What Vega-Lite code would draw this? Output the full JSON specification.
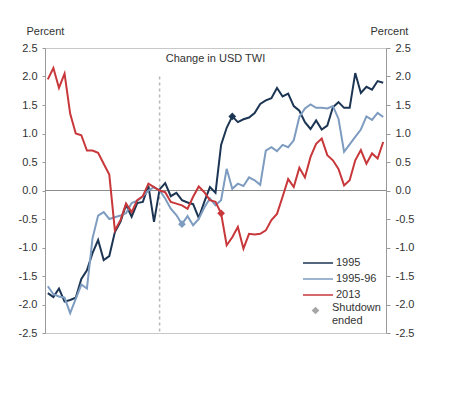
{
  "$schema": "https://vega.github.io/schema/vega-lite/v6.json",
  "width": 341,
  "height": 285,
  "autosize": {"type": "none"},
  "padding": {"left": 45, "top": 48, "right": 63, "bottom": 60},
  "background": "white",
  "config": {
    "font": "Liberation Sans",
    "view": {"stroke": "#c8c8c8", "strokeWidth": 1},
    "axis": {"labelFont": "Liberation Sans", "titleFont": "Liberation Sans", "labelColor": "#333333", "titleColor": "#333333", "labelFontSize": 11, "titleFontSize": 11, "titleFontWeight": "normal", "domainColor": "#9a9a9a", "tickColor": "#9a9a9a", "grid": false},
    "legend": {"labelFont": "Liberation Sans", "labelFontSize": 11, "labelColor": "#333333"}
  },
  "datasets": {
    "lines": [
      {"day": -20, "series": "1995", "value": -1.80}, {"day": -19, "series": "1995", "value": -1.87}, {"day": -18, "series": "1995", "value": -1.72}, {"day": -17, "series": "1995", "value": -1.95}, {"day": -16, "series": "1995", "value": -1.92}, {"day": -15, "series": "1995", "value": -1.88}, {"day": -14, "series": "1995", "value": -1.55}, {"day": -13, "series": "1995", "value": -1.40}, {"day": -12, "series": "1995", "value": -1.10}, {"day": -11, "series": "1995", "value": -0.87}, {"day": -10, "series": "1995", "value": -1.22}, {"day": -9, "series": "1995", "value": -1.15}, {"day": -8, "series": "1995", "value": -0.73}, {"day": -7, "series": "1995", "value": -0.55}, {"day": -6, "series": "1995", "value": -0.25}, {"day": -5, "series": "1995", "value": -0.46}, {"day": -4, "series": "1995", "value": -0.22}, {"day": -3, "series": "1995", "value": -0.20}, {"day": -2, "series": "1995", "value": 0.08}, {"day": -1, "series": "1995", "value": -0.55}, {"day": 0, "series": "1995", "value": 0.02}, {"day": 1, "series": "1995", "value": 0.13}, {"day": 2, "series": "1995", "value": -0.10}, {"day": 3, "series": "1995", "value": -0.04}, {"day": 4, "series": "1995", "value": -0.17}, {"day": 5, "series": "1995", "value": -0.21}, {"day": 6, "series": "1995", "value": -0.24}, {"day": 7, "series": "1995", "value": -0.48}, {"day": 8, "series": "1995", "value": -0.20}, {"day": 9, "series": "1995", "value": 0.06}, {"day": 10, "series": "1995", "value": -0.04}, {"day": 11, "series": "1995", "value": 0.80}, {"day": 12, "series": "1995", "value": 1.10}, {"day": 13, "series": "1995", "value": 1.30}, {"day": 14, "series": "1995", "value": 1.20}, {"day": 15, "series": "1995", "value": 1.25}, {"day": 16, "series": "1995", "value": 1.28}, {"day": 17, "series": "1995", "value": 1.36}, {"day": 18, "series": "1995", "value": 1.52}, {"day": 19, "series": "1995", "value": 1.58}, {"day": 20, "series": "1995", "value": 1.62}, {"day": 21, "series": "1995", "value": 1.80}, {"day": 22, "series": "1995", "value": 1.65}, {"day": 23, "series": "1995", "value": 1.70}, {"day": 24, "series": "1995", "value": 1.48}, {"day": 25, "series": "1995", "value": 1.40}, {"day": 26, "series": "1995", "value": 1.20}, {"day": 27, "series": "1995", "value": 1.08}, {"day": 28, "series": "1995", "value": 1.23}, {"day": 29, "series": "1995", "value": 1.07}, {"day": 30, "series": "1995", "value": 1.14}, {"day": 31, "series": "1995", "value": 1.46}, {"day": 32, "series": "1995", "value": 1.55}, {"day": 33, "series": "1995", "value": 1.45}, {"day": 34, "series": "1995", "value": 1.45}, {"day": 35, "series": "1995", "value": 2.06}, {"day": 36, "series": "1995", "value": 1.71}, {"day": 37, "series": "1995", "value": 1.82}, {"day": 38, "series": "1995", "value": 1.77}, {"day": 39, "series": "1995", "value": 1.92}, {"day": 40, "series": "1995", "value": 1.89},
      {"day": -20, "series": "1995-96", "value": -1.68}, {"day": -19, "series": "1995-96", "value": -1.82}, {"day": -18, "series": "1995-96", "value": -1.86}, {"day": -17, "series": "1995-96", "value": -1.88}, {"day": -16, "series": "1995-96", "value": -2.15}, {"day": -15, "series": "1995-96", "value": -1.90}, {"day": -14, "series": "1995-96", "value": -1.65}, {"day": -13, "series": "1995-96", "value": -1.72}, {"day": -12, "series": "1995-96", "value": -0.84}, {"day": -11, "series": "1995-96", "value": -0.44}, {"day": -10, "series": "1995-96", "value": -0.38}, {"day": -9, "series": "1995-96", "value": -0.50}, {"day": -8, "series": "1995-96", "value": -0.47}, {"day": -7, "series": "1995-96", "value": -0.44}, {"day": -6, "series": "1995-96", "value": -0.40}, {"day": -5, "series": "1995-96", "value": -0.22}, {"day": -4, "series": "1995-96", "value": -0.18}, {"day": -3, "series": "1995-96", "value": -0.10}, {"day": -2, "series": "1995-96", "value": 0.00}, {"day": -1, "series": "1995-96", "value": 0.06}, {"day": 0, "series": "1995-96", "value": 0.00}, {"day": 1, "series": "1995-96", "value": -0.14}, {"day": 2, "series": "1995-96", "value": -0.32}, {"day": 3, "series": "1995-96", "value": -0.43}, {"day": 4, "series": "1995-96", "value": -0.59}, {"day": 5, "series": "1995-96", "value": -0.45}, {"day": 6, "series": "1995-96", "value": -0.61}, {"day": 7, "series": "1995-96", "value": -0.50}, {"day": 8, "series": "1995-96", "value": -0.30}, {"day": 9, "series": "1995-96", "value": -0.14}, {"day": 10, "series": "1995-96", "value": -0.26}, {"day": 11, "series": "1995-96", "value": -0.17}, {"day": 12, "series": "1995-96", "value": 0.38}, {"day": 13, "series": "1995-96", "value": 0.03}, {"day": 14, "series": "1995-96", "value": 0.12}, {"day": 15, "series": "1995-96", "value": 0.08}, {"day": 16, "series": "1995-96", "value": 0.23}, {"day": 17, "series": "1995-96", "value": 0.18}, {"day": 18, "series": "1995-96", "value": 0.10}, {"day": 19, "series": "1995-96", "value": 0.70}, {"day": 20, "series": "1995-96", "value": 0.76}, {"day": 21, "series": "1995-96", "value": 0.69}, {"day": 22, "series": "1995-96", "value": 0.80}, {"day": 23, "series": "1995-96", "value": 0.76}, {"day": 24, "series": "1995-96", "value": 0.88}, {"day": 25, "series": "1995-96", "value": 1.29}, {"day": 26, "series": "1995-96", "value": 1.44}, {"day": 27, "series": "1995-96", "value": 1.51}, {"day": 28, "series": "1995-96", "value": 1.45}, {"day": 29, "series": "1995-96", "value": 1.45}, {"day": 30, "series": "1995-96", "value": 1.44}, {"day": 31, "series": "1995-96", "value": 1.48}, {"day": 32, "series": "1995-96", "value": 1.26}, {"day": 33, "series": "1995-96", "value": 0.68}, {"day": 34, "series": "1995-96", "value": 0.81}, {"day": 35, "series": "1995-96", "value": 0.94}, {"day": 36, "series": "1995-96", "value": 1.07}, {"day": 37, "series": "1995-96", "value": 1.30}, {"day": 38, "series": "1995-96", "value": 1.24}, {"day": 39, "series": "1995-96", "value": 1.36}, {"day": 40, "series": "1995-96", "value": 1.29},
      {"day": -20, "series": "2013", "value": 1.95}, {"day": -19, "series": "2013", "value": 2.15}, {"day": -18, "series": "2013", "value": 1.80}, {"day": -17, "series": "2013", "value": 2.05}, {"day": -16, "series": "2013", "value": 1.35}, {"day": -15, "series": "2013", "value": 1.00}, {"day": -14, "series": "2013", "value": 0.97}, {"day": -13, "series": "2013", "value": 0.70}, {"day": -12, "series": "2013", "value": 0.70}, {"day": -11, "series": "2013", "value": 0.66}, {"day": -10, "series": "2013", "value": 0.47}, {"day": -9, "series": "2013", "value": 0.28}, {"day": -8, "series": "2013", "value": -0.70}, {"day": -7, "series": "2013", "value": -0.52}, {"day": -6, "series": "2013", "value": -0.23}, {"day": -5, "series": "2013", "value": -0.38}, {"day": -4, "series": "2013", "value": -0.17}, {"day": -3, "series": "2013", "value": -0.10}, {"day": -2, "series": "2013", "value": 0.12}, {"day": -1, "series": "2013", "value": 0.06}, {"day": 0, "series": "2013", "value": 0.00}, {"day": 1, "series": "2013", "value": -0.03}, {"day": 2, "series": "2013", "value": -0.20}, {"day": 3, "series": "2013", "value": -0.23}, {"day": 4, "series": "2013", "value": -0.26}, {"day": 5, "series": "2013", "value": -0.32}, {"day": 6, "series": "2013", "value": -0.11}, {"day": 7, "series": "2013", "value": 0.07}, {"day": 8, "series": "2013", "value": -0.03}, {"day": 9, "series": "2013", "value": -0.17}, {"day": 10, "series": "2013", "value": -0.20}, {"day": 11, "series": "2013", "value": -0.40}, {"day": 12, "series": "2013", "value": -0.96}, {"day": 13, "series": "2013", "value": -0.82}, {"day": 14, "series": "2013", "value": -0.64}, {"day": 15, "series": "2013", "value": -1.02}, {"day": 16, "series": "2013", "value": -0.76}, {"day": 17, "series": "2013", "value": -0.77}, {"day": 18, "series": "2013", "value": -0.76}, {"day": 19, "series": "2013", "value": -0.70}, {"day": 20, "series": "2013", "value": -0.52}, {"day": 21, "series": "2013", "value": -0.41}, {"day": 22, "series": "2013", "value": -0.11}, {"day": 23, "series": "2013", "value": 0.20}, {"day": 24, "series": "2013", "value": 0.06}, {"day": 25, "series": "2013", "value": 0.40}, {"day": 26, "series": "2013", "value": 0.23}, {"day": 27, "series": "2013", "value": 0.59}, {"day": 28, "series": "2013", "value": 0.82}, {"day": 29, "series": "2013", "value": 0.91}, {"day": 30, "series": "2013", "value": 0.62}, {"day": 31, "series": "2013", "value": 0.53}, {"day": 32, "series": "2013", "value": 0.38}, {"day": 33, "series": "2013", "value": 0.09}, {"day": 34, "series": "2013", "value": 0.18}, {"day": 35, "series": "2013", "value": 0.53}, {"day": 36, "series": "2013", "value": 0.71}, {"day": 37, "series": "2013", "value": 0.47}, {"day": 38, "series": "2013", "value": 0.65}, {"day": 39, "series": "2013", "value": 0.56}, {"day": 40, "series": "2013", "value": 0.85}
    ],
    "ends": [
      {"day": 13, "series": "1995", "value": 1.30, "marker": "Shutdown ended"},
      {"day": 4, "series": "1995-96", "value": -0.59, "marker": "Shutdown ended"},
      {"day": 11, "series": "2013", "value": -0.40, "marker": "Shutdown ended"}
    ]
  },
  "resolve": {"axis": {"y": "independent"}},
  "layer": [
    {
      "data": {"values": [{"value": 0}]},
      "mark": {"type": "rule", "color": "#8c8c8c", "strokeWidth": 1},
      "encoding": {
        "y": {"field": "value", "type": "quantitative", "scale": {"domain": [-2.5, 2.5], "nice": false}, "axis": null}
      }
    },
    {
      "data": {"values": [{"day": 0, "value": 2.0, "value2": -2.5}]},
      "mark": {"type": "rule", "color": "#b8b8b8", "strokeWidth": 1.5, "strokeDash": [3, 3]},
      "encoding": {
        "x": {"field": "day", "type": "quantitative", "scale": {"domain": [-20.5, 40.5], "nice": false, "zero": false}, "axis": null},
        "y": {"field": "value", "type": "quantitative", "scale": {"domain": [-2.5, 2.5], "nice": false}, "axis": null},
        "y2": {"field": "value2"}
      }
    },
    {
      "data": {"values": [{"day": 10, "value": 2.3, "label": "Change in USD TWI"}]},
      "mark": {"type": "text", "fontSize": 11, "color": "#333333", "align": "center", "baseline": "middle"},
      "encoding": {
        "x": {"field": "day", "type": "quantitative", "axis": null},
        "y": {"field": "value", "type": "quantitative", "axis": null},
        "text": {"field": "label"}
      }
    },
    {
      "data": {"name": "lines"},
      "mark": {"type": "line", "strokeWidth": 2},
      "encoding": {
        "x": {"field": "day", "type": "quantitative", "scale": {"domain": [-20.5, 40.5], "nice": false, "zero": false},
          "axis": {"title": "Days since government shutdown", "values": [-20,-19,-18,-17,-16,-15,-14,-13,-12,-11,-10,-9,-8,-7,-6,-5,-4,-3,-2,-1,0,1,2,3,4,5,6,7,8,9,10,11,12,13,14,15,16,17,18,19,20,21,22,23,24,25,26,27,28,29,30,31,32,33,34,35,36,37,38,39,40],
            "labelExpr": "datum.value % 5 === 0 ? replace(datum.label, '\u2212', '-') : ''", "labelOverlap": false, "tickSize": 3, "labelPadding": 4, "titlePadding": 3}},
        "y": {"field": "value", "type": "quantitative", "scale": {"domain": [-2.5, 2.5], "nice": false},
          "axis": {"orient": "left", "values": [-2.5,-2,-1.5,-1,-0.5,0,0.5,1,1.5,2,2.5], "format": ".1f", "labelExpr": "replace(datum.label, '\u2212', '-')", "tickSize": 3, "labelPadding": 5,
            "title": "Percent", "titleAngle": 0, "titleAlign": "left", "titleBaseline": "middle", "titleX": -19, "titleY": -17}},
        "color": {"field": "series", "type": "nominal", "scale": {"domain": ["1995", "1995-96", "2013"], "range": ["#1c3553", "#7d9cc0", "#c8373a"]},
          "legend": {"title": null, "orient": "none", "legendX": 257, "legendY": 207, "symbolType": "stroke", "symbolSize": 900, "symbolStrokeWidth": 1.5, "labelOffset": 2, "rowPadding": 0, "clipHeight": 16, "padding": 0}}
      }
    },
    {
      "data": {"name": "ends"},
      "mark": {"type": "point", "filled": true, "size": 60, "opacity": 1},
      "encoding": {
        "x": {"field": "day", "type": "quantitative"},
        "y": {"field": "value", "type": "quantitative", "scale": {"domain": [-2.5, 2.5], "nice": false},
          "axis": {"orient": "right", "values": [-2.5,-2,-1.5,-1,-0.5,0,0.5,1,1.5,2,2.5], "format": ".1f", "labelExpr": "replace(datum.label, '\u2212', '-')", "tickSize": 4, "labelPadding": 5,
            "title": "Percent", "titleAngle": 0, "titleAlign": "left", "titleBaseline": "middle", "titleX": -16, "titleY": -17}},
        "fill": {"field": "series", "type": "nominal", "scale": {"domain": ["1995", "1995-96", "2013"], "range": ["#1c3553", "#7d9cc0", "#c8373a"]}, "legend": null},
        "shape": {"field": "marker", "type": "nominal", "scale": {"range": ["diamond"]},
          "legend": {"title": null, "orient": "none", "legendX": 265, "legendY": 257, "symbolSize": 60, "symbolFillColor": "#a6a6a6", "symbolStrokeWidth": 0, "labelOffset": 11, "padding": 0, "labelBaseline": "alphabetic", "labelLineHeight": 11, "labelExpr": "['Shutdown', 'ended']"}}
      }
    }
  ]
}
